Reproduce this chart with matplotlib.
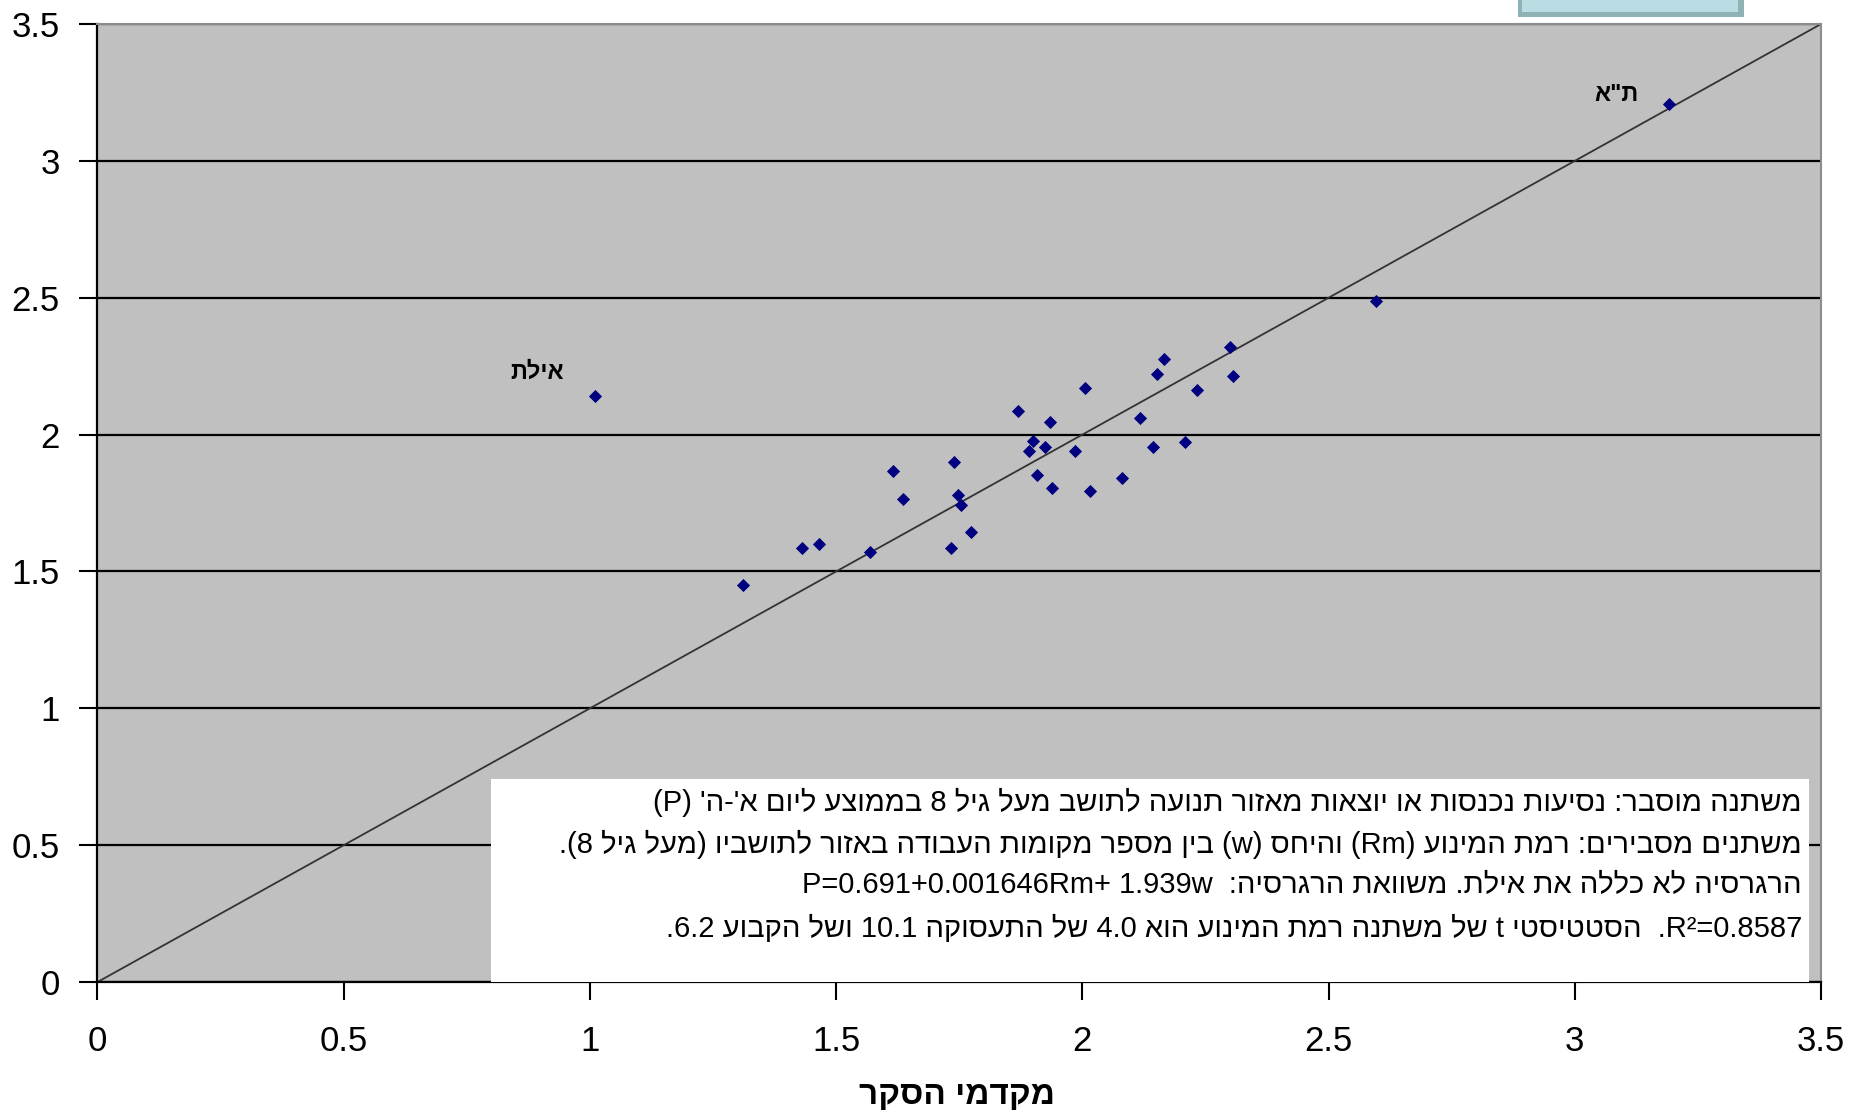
import re
import numpy as np
import matplotlib
matplotlib.use("Agg")
import matplotlib.pyplot as plt
from matplotlib.patches import Rectangle
from matplotlib.ticker import FuncFormatter

plt.rcParams['font.family'] = ['Liberation Sans', 'DejaVu Sans']

# survey coefficients (x) against model values (y), one point per zone
survey = [1.011, 3.191, 2.597, 1.311, 1.430, 1.465, 1.569, 1.615, 1.635, 1.734, 1.739,
          1.747, 1.754, 1.773, 1.869, 1.892, 1.900, 1.908, 1.924, 1.935, 1.939, 1.985,
          2.005, 2.016, 2.081, 2.117, 2.143, 2.151, 2.165, 2.208, 2.232, 2.300, 2.305]
model = [2.141, 3.209, 2.488, 1.450, 1.586, 1.600, 1.571, 1.867, 1.766, 1.586, 1.901,
         1.781, 1.744, 1.644, 2.088, 1.940, 1.975, 1.852, 1.955, 2.047, 1.806, 1.940,
         2.169, 1.793, 1.840, 2.061, 1.955, 2.223, 2.275, 1.974, 2.162, 2.319, 2.214]

point_names = ['אילת', 'ת"א']
point_label_xy = [(0.893, 2.228), (3.085, 3.244)]

box_lines = [
    "משתנה מוסבר: נסיעות נכנסות או יוצאות מאזור תנועה לתושב מעל גיל 8 בממוצע ליום א'-ה' (P)",
    "משתנים מסבירים: רמת המינוע (Rm) והיחס (w) בין מספר מקומות העבודה באזור לתושביו (מעל גיל 8).",
    "הרגרסיה לא כללה את אילת. משוואת הרגרסיה:  P=0.691+0.001646Rm+ 1.939w",
    "R²=0.8587.  הסטטיסטי t של משתנה רמת המינוע הוא 4.0 של התעסוקה 10.1 ושל הקבוע 6.2.",
]
xlabel = "מקדמי הסקר"

ticks = np.arange(0, 3.51, 0.5)

# matplotlib has no bidi, so put hebrew into visual order by hand
LTR = re.compile(r"[A-Za-z0-9²](?:[A-Za-z0-9².=+ ]*[A-Za-z0-9²])?")


def rtl(s):
    r = s[::-1]
    r = LTR.sub(lambda m: m.group(0)[::-1], r)
    return r.translate(str.maketrans('()', ')('))


fig = plt.figure(figsize=(18.63, 11.16), dpi=100)
ax = fig.add_axes([0.0523, 0.12, 0.9252, 0.8585])
ax.set_facecolor('#c0c0c0')

ax.set_xlim(0, 3.5)
ax.set_ylim(0, 3.5)
ax.set_xticks(ticks)
ax.set_yticks(ticks)
fmt = FuncFormatter(lambda v, p: '%g' % v)
ax.xaxis.set_major_formatter(fmt)
ax.yaxis.set_major_formatter(fmt)

ax.yaxis.grid(True, color='black', lw=1.6)
ax.set_axisbelow(True)

# 45 degree reference line
ax.plot([0, 3.5], [0, 3.5], color='#333333', lw=1.3, zorder=2)
ax.scatter(survey, model, marker='D', s=45, color='#000080', zorder=3, linewidths=0)

for name, (lx, ly) in zip(point_names, point_label_xy):
    ax.text(lx, ly, rtl(name), ha='center', va='center', fontsize=17,
            fontweight='bold', zorder=4)

# white notes box in the lower right
ax.add_patch(Rectangle((0.8, 0.0), 2.676, 0.742, facecolor='white',
                       edgecolor='none', zorder=5))
line_y = [0.656, 0.504, 0.356, 0.195]
for txt, y in zip(box_lines, line_y):
    ax.text(3.461, y, rtl(txt), ha='right', va='center', fontsize=21, zorder=6)

for side in ['left', 'bottom']:
    ax.spines[side].set_color('black')
    ax.spines[side].set_linewidth(1.6)
for side in ['top', 'right']:
    ax.spines[side].set_color('#8c8c8c')
    ax.spines[side].set_linewidth(1.5)

ax.tick_params(axis='both', direction='out', length=13, width=1.5, labelsize=25,
               colors='black')
ax.tick_params(axis='y', pad=14)
ax.tick_params(axis='x', pad=18)

fig.text(957 / 1863, 1 - 1096 / 1116, rtl(xlabel), ha='center', va='center',
         fontsize=24, fontweight='bold')

# cut-off legend box at the top edge
fig.patches.append(Rectangle((1518 / 1863, 1 - 17 / 1116), 226 / 1863, 17 / 1116,
                             transform=fig.transFigure, facecolor='#8fb3b5',
                             edgecolor='none'))
fig.patches.append(Rectangle((1522 / 1863, 1 - 12 / 1116), 216 / 1863, 12 / 1116,
                             transform=fig.transFigure, facecolor='#b9dde2',
                             edgecolor='none'))

fig.savefig('out.png', dpi=100)
